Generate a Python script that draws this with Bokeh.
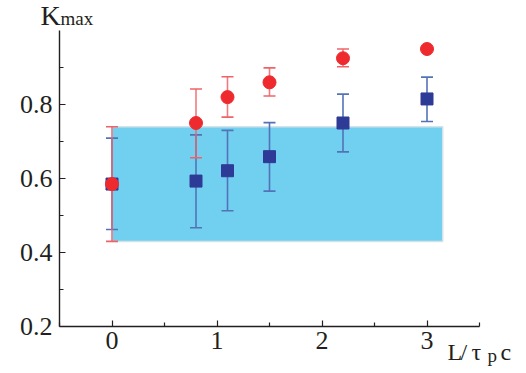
from bokeh.plotting import figure
from bokeh.models import Range1d, FixedTicker, Label
from bokeh.embed import file_html
from bokeh.resources import INLINE

# ---- data ----
L_vals = [0.0, 0.8, 1.1, 1.5, 2.2, 3.0]
red_k = [0.585, 0.75, 0.82, 0.86, 0.925, 0.95]
red_err_x = [0.0, 0.8, 1.1, 1.5, 2.2]
red_upper = [0.74, 0.842, 0.875, 0.899, 0.95]
red_lower = [0.43, 0.656, 0.766, 0.823, 0.902]
blue_k = [0.585, 0.593, 0.621, 0.659, 0.75, 0.815]
blue_upper = [0.709, 0.718, 0.730, 0.751, 0.828, 0.874]
blue_lower = [0.462, 0.467, 0.513, 0.566, 0.672, 0.754]
band_left, band_right = 0.0, 3.15
band_bottom, band_top = 0.43, 0.74
x_ticks = [0, 1, 2, 3]
x_minor = [-0.5, 0.5, 1.5, 2.5, 3.5]
y_ticks = [0.2, 0.4, 0.6, 0.8]
y_minor = [0.3, 0.5, 0.7, 0.9]
x_axis_span = (-0.5, 3.5)
y_axis_span = (0.2, 1.0)

FONT = "Liberation Serif"
INK = "#231F20"

W, H = 518, 370
# frame fills the canvas; axis box spans px 59..479 (x) and 30..326 (y)
px_per_x = (479 - 59) / (x_axis_span[1] - x_axis_span[0])
px_per_y = (326 - 30) / (y_axis_span[1] - y_axis_span[0])
x_start = x_axis_span[0] - 59 / px_per_x
x_end = x_start + W / px_per_x
y_end = y_axis_span[1] + 30 / px_per_y
y_start = y_end - H / px_per_y

p = figure(width=W, height=H, output_backend="svg", toolbar_location=None,
           x_range=Range1d(x_start, x_end), y_range=Range1d(y_start, y_end),
           min_border=0)
p.outline_line_color = None
p.grid.visible = False
p.background_fill_color = "white"
p.border_fill_color = "white"

# band
p.quad(left=[band_left], right=[band_right], bottom=[band_bottom], top=[band_top],
       fill_color="#71CFEF", line_color="#D5E3E8", line_width=1.5)

# error bars (vertical lines + caps)
bcol = "#5373B8"
rcol = "#EF6368"
p.segment(x0=L_vals, y0=blue_lower, x1=L_vals, y1=blue_upper, line_color=bcol,
          line_width=1.6)
p.scatter(L_vals, blue_upper, marker="dash", size=12, line_color=bcol, line_width=1.6)
p.scatter(L_vals, blue_lower, marker="dash", size=12, line_color=bcol, line_width=1.6)
p.segment(x0=red_err_x, y0=red_lower, x1=red_err_x, y1=red_upper, line_color=rcol,
          line_width=1.6, line_alpha=0.85)
p.scatter(red_err_x, red_upper, marker="dash", size=12, line_color=rcol, line_width=1.6)
p.scatter(red_err_x, red_lower, marker="dash", size=12, line_color=rcol, line_width=1.6)

p.scatter(L_vals, blue_k, marker="square", size=12, fill_color="#2E3B96",
          line_color="#2E3B96")
p.scatter(L_vals, red_k, marker="circle", size=13, fill_color="#EE2A2F",
          line_color="#EE2A2F")

# axes
for ax in (p.xaxis[0], p.yaxis[0]):
    ax.axis_line_color = INK
    ax.axis_line_width = 1.4
    ax.major_tick_line_color = INK
    ax.minor_tick_line_color = INK
    ax.major_tick_line_width = 1.2
    ax.minor_tick_line_width = 1.2
    ax.major_tick_in = 6
    ax.major_tick_out = 0
    ax.minor_tick_in = 4
    ax.minor_tick_out = 0
    ax.major_label_text_font = FONT
    ax.major_label_text_font_size = "26px"
    ax.major_label_text_color = INK

p.xaxis[0].ticker = FixedTicker(ticks=x_ticks, minor_ticks=x_minor)
p.yaxis[0].ticker = FixedTicker(ticks=y_ticks, minor_ticks=y_minor)
p.xaxis[0].fixed_location = y_axis_span[0]
p.yaxis[0].fixed_location = x_axis_span[0]
p.xaxis[0].bounds = x_axis_span
p.yaxis[0].bounds = y_axis_span
p.xaxis[0].major_label_standoff = 5
p.yaxis[0].major_label_standoff = 7
p.xaxis[0].major_label_overrides = {0: "0", 1: "1", 2: "2", 3: "3"}

# axis titles as labels (screen units from the bottom-left); ytop = baseline from top
def lab(txt, x, ytop, size):
    p.add_layout(Label(x=x, y=H - ytop, x_units="screen", y_units="screen", text=txt,
                       text_font=FONT, text_font_size=size, text_color=INK,
                       text_baseline="alphabetic"))

lab("K", 40, 15, "28px")
lab("max", 60, 18, "19px")
lab("L", 447, 351, "24px")
lab("/", 460, 351, "24px")
lab("\u03c4", 471, 351, "24px")
lab("p", 487, 355, "19px")
lab("c", 500, 351, "24px")

open("out.html", "w").write(file_html(p, INLINE))
